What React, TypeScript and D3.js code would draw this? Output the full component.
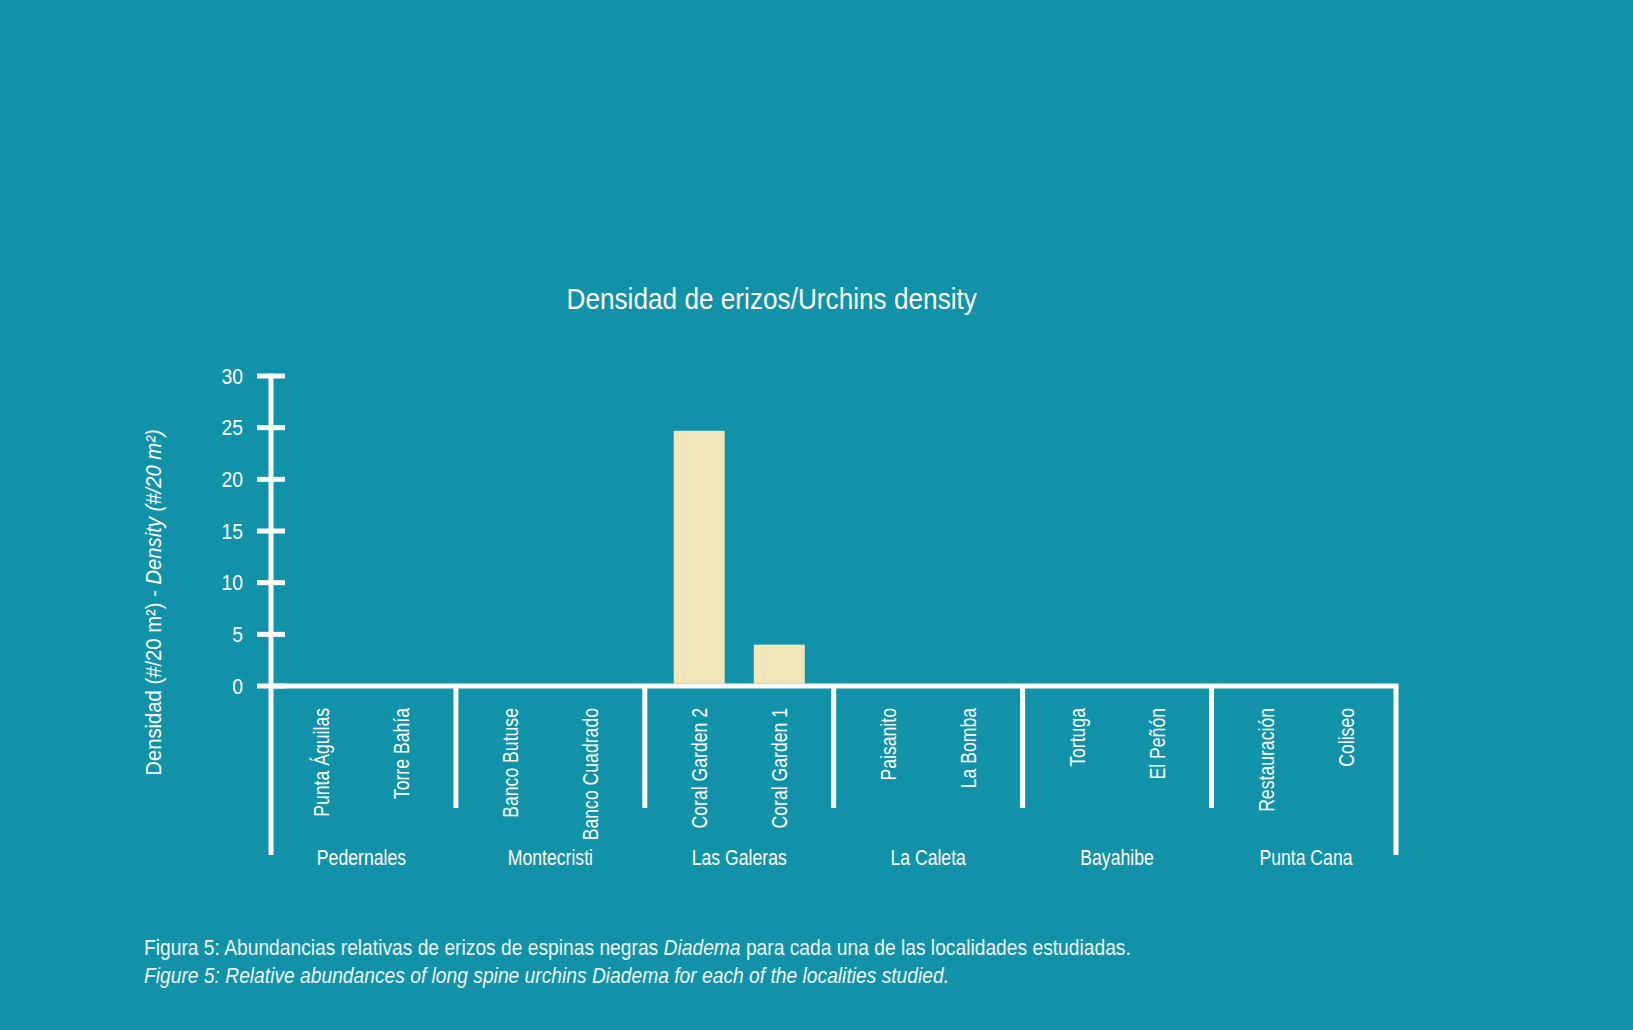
import React from "react";
import * as d3 from "d3";

const groups = ["Pedernales", "Montecristi", "Las Galeras", "La Caleta", "Bayahibe", "Punta Cana"];
const sites = [
  ["Punta Águilas", "Torre Bahía"],
  ["Banco Butuse", "Banco Cuadrado"],
  ["Coral Garden 2", "Coral Garden 1"],
  ["Paisanito", "La Bomba"],
  ["Tortuga", "El Peñón"],
  ["Restauración", "Coliseo"],
];
const densities = [
  [0, 0],
  [0, 0],
  [24.7, 4],
  [0, 0],
  [0, 0],
  [0, 0],
];
const yTicks = [0, 5, 10, 15, 20, 25, 30];

const title = "Densidad de erizos/Urchins density";
const captionEs = ["Figura 5: Abundancias relativas de erizos de espinas negras ", "Diadema", " para cada una de las localidades estudiadas."];
const captionEn = "Figure 5: Relative abundances of long spine urchins Diadema for each of the localities studied.";

const BG = "#1192a8";
const BAR = "#f0e6b9";
const FONT = "'Liberation Sans', Arial, sans-serif";

export default function App() {
  const W = 1633, H = 1030;
  const x0 = 267, x1 = 1400.4;
  const yAxisX = 271;
  const y = d3.scaleLinear().domain([0, 30]).range([686, 376]);
  const gx = d3.scaleBand<string>().domain(groups).range([x0, x1]).padding(0);
  const bw = gx.bandwidth();
  const sub = d3.scalePoint<number>().domain([0, 1]).range([-0.212 * bw, 0.212 * bw]);
  const barW = 51;
  const base = y(0);
  const axisBottom = 855;
  const sepBottom = 808;
  const rightX = x1 - 4.4;

  return (
    <svg width={W} height={H} style={{ position: "absolute", left: 0, top: 0, display: "block" }} fontFamily={FONT}>
      <rect x={0} y={0} width={W} height={H} fill={BG} />
      {/* title */}
      <text textAnchor="middle" fill="#fff" fontSize={29.3} transform="translate(771.7,309) scale(0.894,1)">
        {title}
      </text>
      {/* bars */}
      {groups.map((g, gi) =>
        densities[gi].map((v, si) =>
          v > 0 ? (
            <rect key={g + si} x={(gx(g) as number) + bw / 2 + (sub(si) as number) - barW / 2} y={y(v)} width={barW} height={base - 2.5 - y(v)} fill={BAR} />
          ) : null
        )
      )}
      {/* y axis */}
      <line x1={yAxisX} x2={yAxisX} y1={y(30) - 2.5} y2={axisBottom} stroke="#fff" strokeWidth={5} />
      {yTicks.map((t) => (
        <g key={t}>
          <line x1={yAxisX - 14} x2={yAxisX + 14} y1={y(t)} y2={y(t)} stroke="#fff" strokeWidth={5} />
          <text textAnchor="end" fill="#fff" fontSize={21.5} transform={`translate(243,${y(t) + 7.6}) scale(0.9,1)`}>
            {t}
          </text>
        </g>
      ))}
      {/* baseline */}
      <line x1={yAxisX} x2={rightX + 2.5} y1={base} y2={base} stroke="#fff" strokeWidth={5} />
      <line x1={rightX} x2={rightX} y1={base} y2={axisBottom} stroke="#fff" strokeWidth={5} />
      {groups.slice(1).map((g) => (
        <line key={g} x1={gx(g) as number} x2={gx(g) as number} y1={base} y2={sepBottom} stroke="#fff" strokeWidth={5} />
      ))}
      {/* site labels */}
      {groups.map((g, gi) =>
        sites[gi].map((s, si) => {
          const cx = (gx(g) as number) + bw / 2 + (sub(si) as number) + 7.8;
          return (
            <text key={s} transform={`translate(${cx},708) rotate(-90) scale(0.82,1)`} textAnchor="end" fill="#fff" fontSize={21.5}>
              {s}
            </text>
          );
        })
      )}
      {/* group labels */}
      {groups.map((g) => {
        const cx = (gx(g) as number) + bw / 2;
        return (
          <text key={g} transform={`translate(${cx},865) scale(0.82,1)`} textAnchor="middle" fill="#fff" fontSize={21.5}>
            {g}
          </text>
        );
      })}
      {/* y label */}
      <text transform="translate(160.5,602.5) rotate(-90) scale(0.9,1)" textAnchor="middle" fill="#fff" fontSize={22.5}>
        <tspan>Densidad (#/20 m²) - </tspan>
        <tspan fontStyle="italic">Density (#/20 m²)</tspan>
      </text>
      {/* caption */}
      <text transform="translate(144,955) scale(0.837,1)" fill="#eef6f8" fontSize={23}>
        <tspan>{captionEs[0]}</tspan>
        <tspan fontStyle="italic">{captionEs[1]}</tspan>
        <tspan>{captionEs[2]}</tspan>
      </text>
      <text transform="translate(144,983) scale(0.837,1)" fill="#eef6f8" fontSize={23} fontStyle="italic">
        {captionEn}
      </text>
    </svg>
  );
}
